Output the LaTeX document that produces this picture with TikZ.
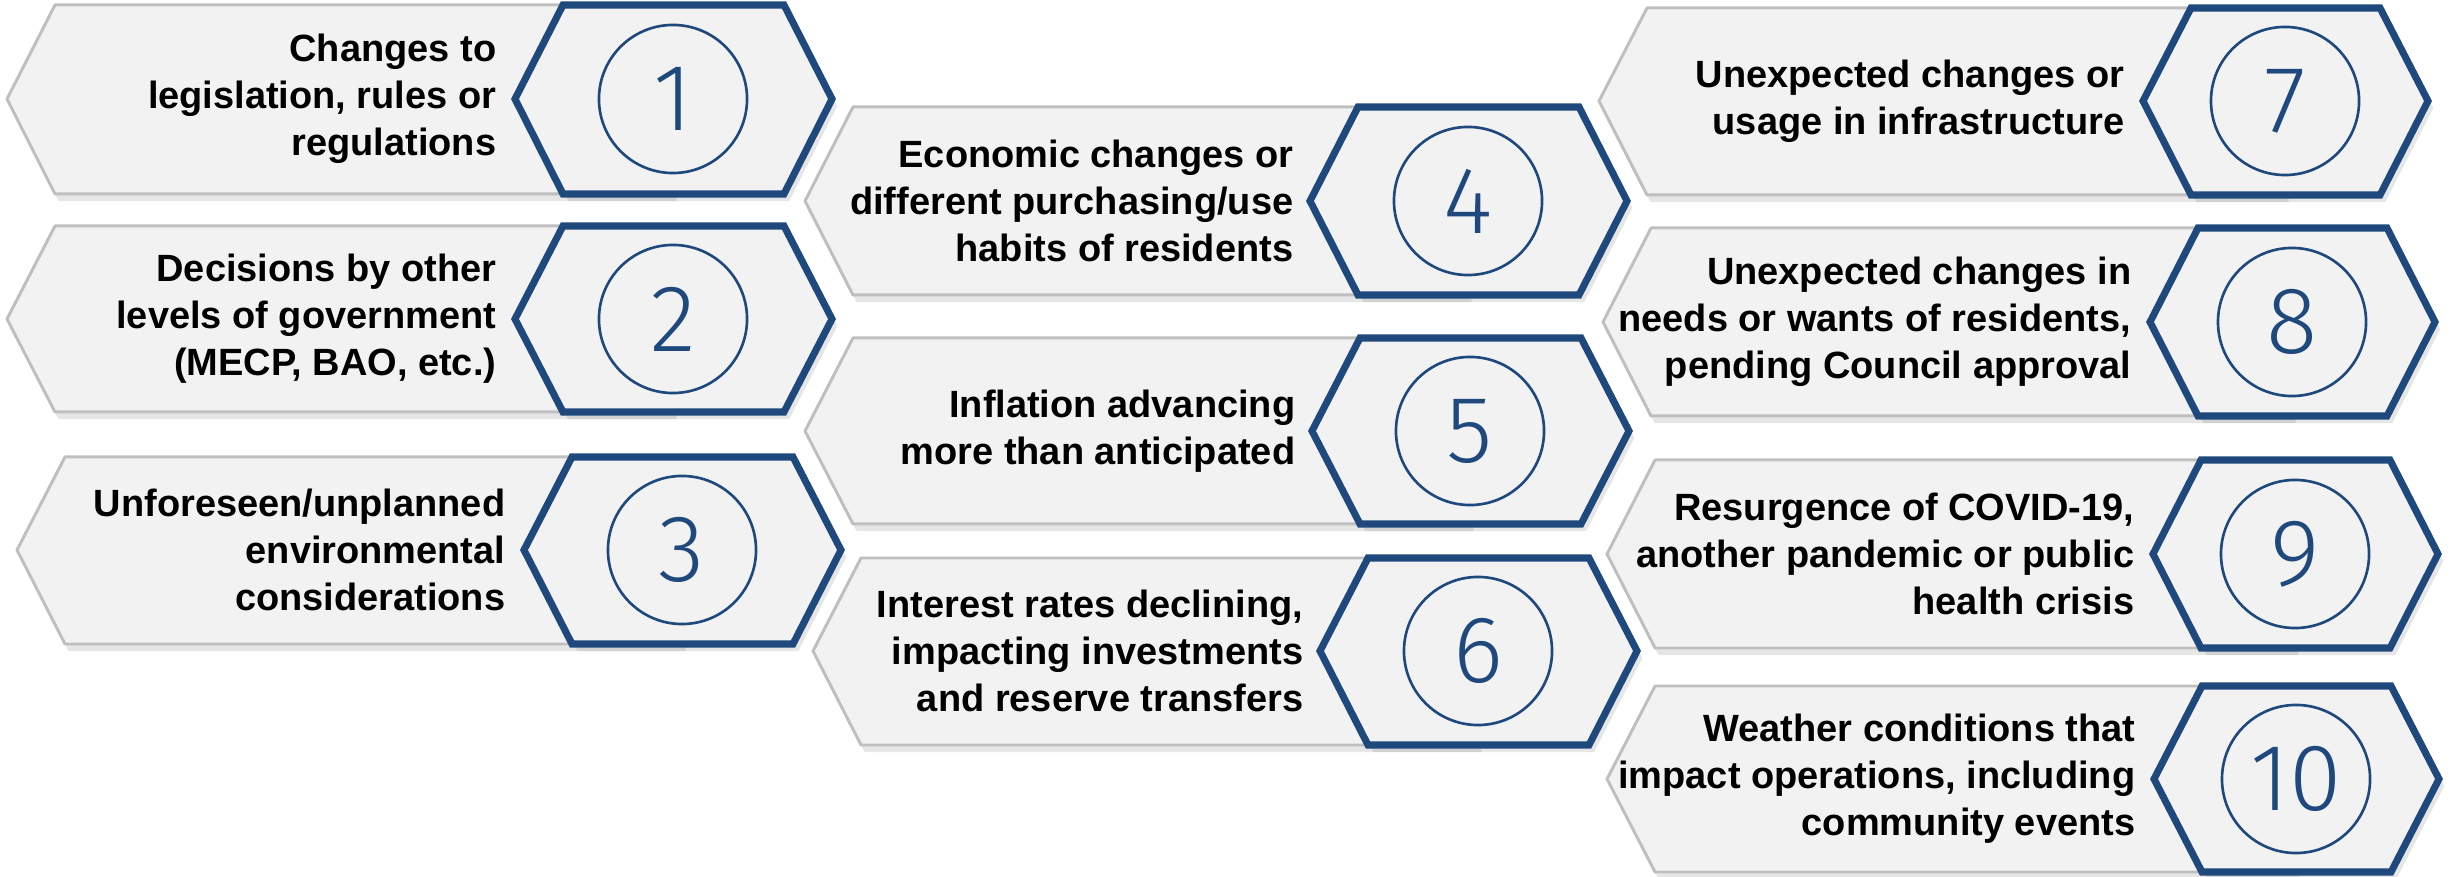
\documentclass[tikz,border=0pt]{standalone}
\usepackage{fontspec}
\setmainfont{Liberation Sans}
\newfontfamily\numfont{Fira Sans Light}
\usetikzlibrary{shadows}

\definecolor{hexblue}{RGB}{31,73,125}
\definecolor{cardgray}{RGB}{191,191,191}
\definecolor{cardfill}{RGB}{242,242,242}

\begin{document}
\begin{tikzpicture}[x=0.01cm, y=-0.01cm,
		card/.style={draw=cardgray, line width=0.85pt, fill=cardfill, line join=round,
			drop shadow={shadow xshift=1pt, shadow yshift=-2pt, opacity=0.2}},
		hexa/.style={draw=hexblue, line width=2pt, fill=cardfill, line join=miter,
			drop shadow={shadow xshift=1.5pt, shadow yshift=-2pt, opacity=0.2}}]
		\useasboundingbox (0,0) rectangle (2455,877);
		
		% left column
		\draw[card] (7,99) -- (55,5) -- (673,5) -- (673,194) -- (55,194) -- cycle;
		\draw[hexa] (515,99) -- (563,5) -- (784,5) -- (832,99) -- (784,194) -- (563,194) -- cycle;
		
		\draw[card] (7,319) -- (55,226) -- (673,226) -- (673,412) -- (55,412) -- cycle;
		\draw[hexa] (515,319) -- (563,226) -- (784,226) -- (832,319) -- (784,412) -- (563,412) -- cycle;
		
		\draw[card] (17,550) -- (65,457) -- (682,457) -- (682,644) -- (65,644) -- cycle;
		\draw[hexa] (524,550) -- (572,457) -- (793,457) -- (841,550) -- (793,644) -- (572,644) -- cycle;
		
		% middle column
		\draw[card] (805,201) -- (853,107) -- (1468,107) -- (1468,295) -- (853,295) -- cycle;
		\draw[hexa] (1310,201) -- (1358,107) -- (1579,107) -- (1627,201) -- (1579,295) -- (1358,295) -- cycle;
		
		\draw[card] (805,431) -- (853,338) -- (1470,338) -- (1470,524) -- (853,524) -- cycle;
		\draw[hexa] (1312,431) -- (1360,338) -- (1581,338) -- (1629,431) -- (1581,524) -- (1360,524) -- cycle;
		
		\draw[card] (813,651) -- (861,558) -- (1478,558) -- (1478,745) -- (861,745) -- cycle;
		\draw[hexa] (1320,651) -- (1368,558) -- (1589,558) -- (1637,651) -- (1589,745) -- (1368,745) -- cycle;
		
		% right column
		\draw[card] (1599,101) -- (1647,8) -- (2285,8) -- (2285,195) -- (1647,195) -- cycle;
		\draw[hexa] (2143,101) -- (2191,8) -- (2380,8) -- (2428,101) -- (2380,195) -- (2191,195) -- cycle;
		
		\draw[card] (1603,322) -- (1651,228) -- (2292,228) -- (2292,416) -- (1651,416) -- cycle;
		\draw[hexa] (2150,322) -- (2198,228) -- (2387,228) -- (2435,322) -- (2387,416) -- (2198,416) -- cycle;
		
		\draw[card] (1607,554) -- (1655,460) -- (2295,460) -- (2295,648) -- (1655,648) -- cycle;
		\draw[hexa] (2153,554) -- (2201,460) -- (2390,460) -- (2438,554) -- (2390,648) -- (2201,648) -- cycle;
		
		\draw[card] (1607,779) -- (1655,686) -- (2296,686) -- (2296,872) -- (1655,872) -- cycle;
		\draw[hexa] (2154,779) -- (2202,686) -- (2391,686) -- (2439,779) -- (2391,872) -- (2202,872) -- cycle;
		
		\begin{scope}[every node/.style={anchor=east, align=right, inner sep=0pt,
				font=\bfseries\fontsize{10.8}{13.4}\selectfont}]
		\node (txt1) at (497,99)   {Changes to\\legislation, rules or\\regulations};
		\node (txt2) at (497,319)  {Decisions by other\\levels of government\\(MECP, BAO, etc.)};
		\node (txt3) at (506,550)  {Unforeseen/unplanned\\environmental\\considerations};
		
		\node (txt4) at (1294,201) {Economic changes or\\different purchasing/use\\habits of residents};
		\node (txt5) at (1296,431) {Inflation advancing\\more than anticipated};
		\node (txt6) at (1304,651) {Interest rates declining,\\impacting investments\\and reserve transfers};
		
		\node (txt7) at (2125,101) {Unexpected changes or\\usage in infrastructure};
		\node (txt8) at (2132,322) {Unexpected changes in\\needs or wants of residents,\\pending Council approval};
		\node (txt9) at (2135,554) {Resurgence of COVID-19,\\another pandemic or public\\health crisis};
		\node (txt10) at (2136,779) {Weather conditions that\\impact operations, including\\community events};
		\end{scope}
		
		\begin{scope}[every node/.style={circle, draw=hexblue, line width=0.75pt, minimum size=1.48cm,
				inner sep=0pt, text=hexblue, font=\numfont\fontsize{27}{27}\selectfont}]
		\node (num1) at (673,99)    {1};
		\node (num2) at (673,319)   {2};
		\node (num3) at (682,550)   {3};
		
		\node (num4) at (1468,201)  {4};
		\node (num5) at (1470,431)  {5};
		\node (num6) at (1478,651)  {6};
		
		\node (num7) at (2285,101)  {7};
		\node (num8) at (2292,322)  {8};
		\node (num9) at (2295,554)  {9};
		\node (num10) at (2296,779) {10};
		\end{scope}
		
\end{tikzpicture}
\end{document}
